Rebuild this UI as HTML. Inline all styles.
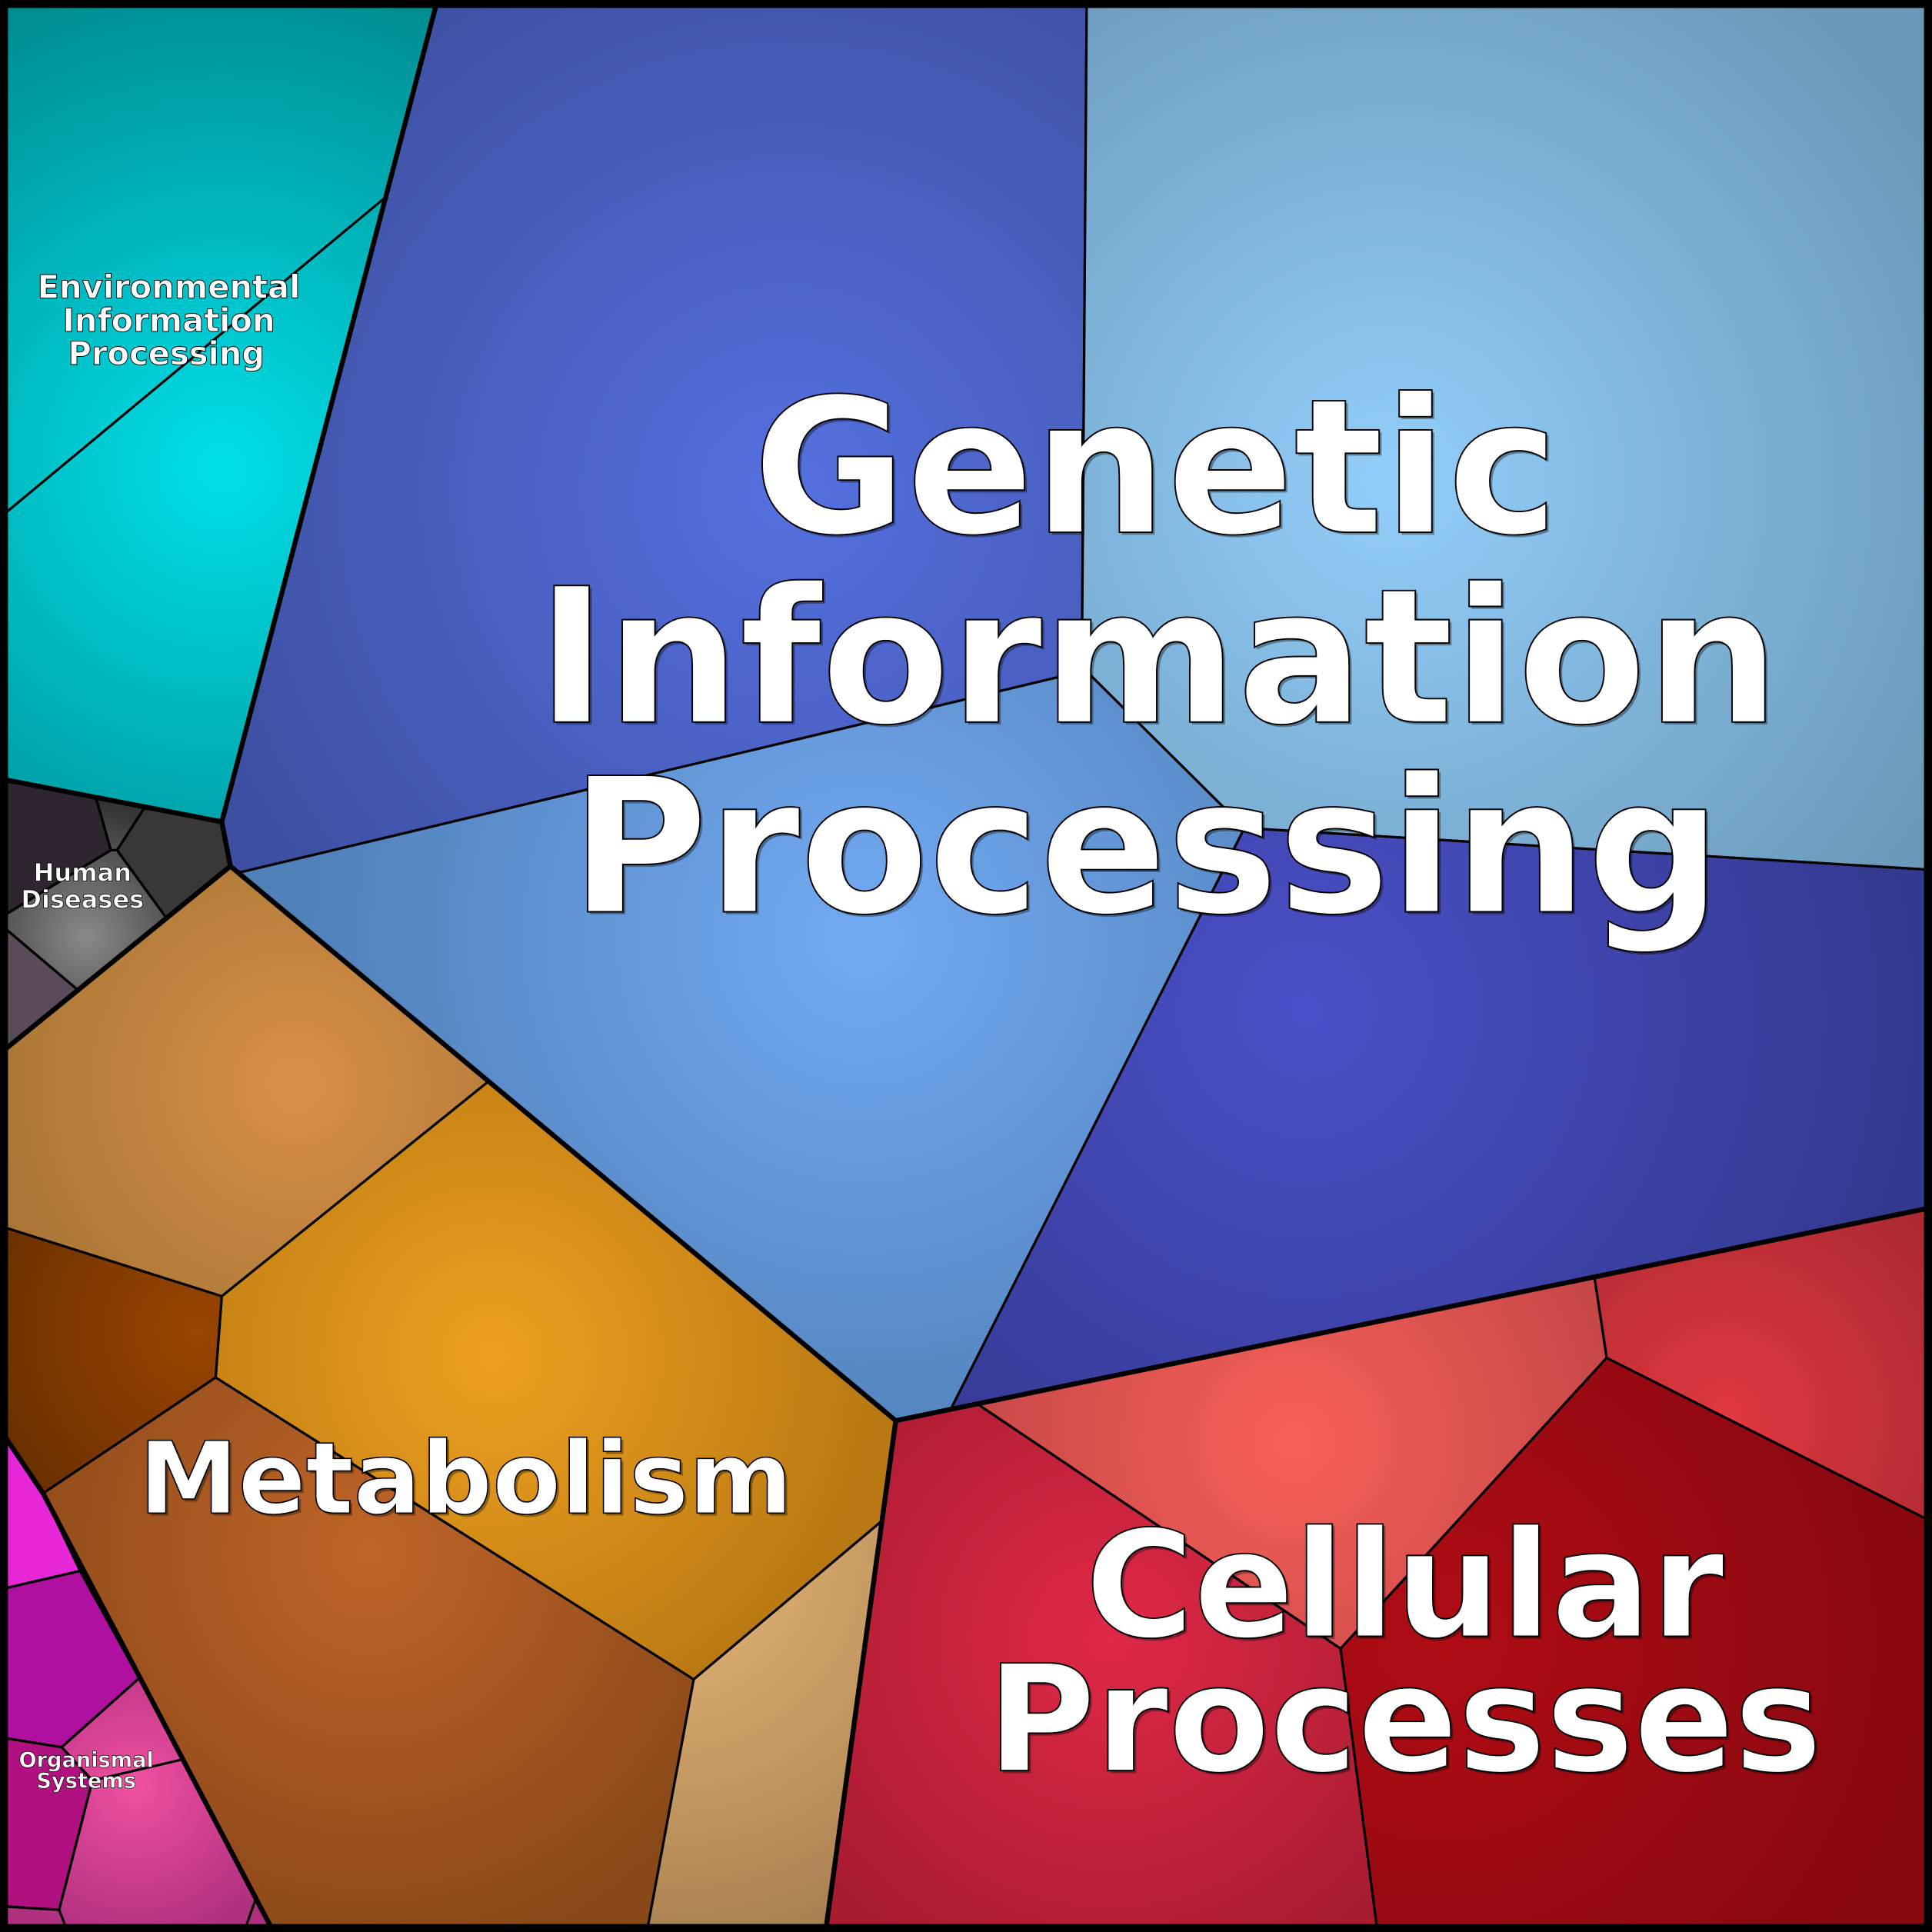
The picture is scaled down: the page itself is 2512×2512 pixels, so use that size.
<!DOCTYPE html>
<html><head><meta charset="utf-8"><style>html,body{margin:0;padding:0;background:#fff}svg{display:block}</style></head><body>
<svg width="2512" height="2512" viewBox="0 0 1568 1568" xmlns="http://www.w3.org/2000/svg">
<defs>
<radialGradient id="gEnv" gradientUnits="userSpaceOnUse" cx="180" cy="380" r="420"><stop offset="0" stop-color="#00e0e8"/><stop offset="1" stop-color="#008a90"/></radialGradient>
<radialGradient id="gB1" gradientUnits="userSpaceOnUse" cx="640" cy="400" r="520"><stop offset="0" stop-color="#5570e0"/><stop offset="1" stop-color="#3d4fa0"/></radialGradient>
<radialGradient id="gB2" gradientUnits="userSpaceOnUse" cx="1130" cy="390" r="520"><stop offset="0" stop-color="#92cefa"/><stop offset="1" stop-color="#6a98b8"/></radialGradient>
<radialGradient id="gB3" gradientUnits="userSpaceOnUse" cx="700" cy="760" r="460"><stop offset="0" stop-color="#72aaf2"/><stop offset="1" stop-color="#5080b8"/></radialGradient>
<radialGradient id="gB4" gradientUnits="userSpaceOnUse" cx="1060" cy="820" r="500"><stop offset="0" stop-color="#4a50c8"/><stop offset="1" stop-color="#33398f"/></radialGradient>
<radialGradient id="gHD" gradientUnits="userSpaceOnUse" cx="70" cy="760" r="110"><stop offset="0" stop-color="#8a8a8a"/><stop offset="1" stop-color="#333"/></radialGradient>
<radialGradient id="gM1" gradientUnits="userSpaceOnUse" cx="240" cy="880" r="260"><stop offset="0" stop-color="#d89048"/><stop offset="1" stop-color="#a87535"/></radialGradient>
<radialGradient id="gM2" gradientUnits="userSpaceOnUse" cx="400" cy="1100" r="320"><stop offset="0" stop-color="#eea020"/><stop offset="1" stop-color="#b87812"/></radialGradient>
<radialGradient id="gM3" gradientUnits="userSpaceOnUse" cx="160" cy="1080" r="180"><stop offset="0" stop-color="#9a4500"/><stop offset="1" stop-color="#6a3000"/></radialGradient>
<radialGradient id="gM4" gradientUnits="userSpaceOnUse" cx="300" cy="1260" r="340"><stop offset="0" stop-color="#c06428"/><stop offset="1" stop-color="#884818"/></radialGradient>
<radialGradient id="gM5" gradientUnits="userSpaceOnUse" cx="540" cy="1260" r="330"><stop offset="0" stop-color="#e8b878"/><stop offset="1" stop-color="#a88050"/></radialGradient>
<radialGradient id="gO" gradientUnits="userSpaceOnUse" cx="110" cy="1450" r="130"><stop offset="0" stop-color="#f050a0"/><stop offset="1" stop-color="#b03080"/></radialGradient>
<radialGradient id="gC1" gradientUnits="userSpaceOnUse" cx="1050" cy="1170" r="300"><stop offset="0" stop-color="#f86058"/><stop offset="1" stop-color="#c04545"/></radialGradient>
<radialGradient id="gC2" gradientUnits="userSpaceOnUse" cx="900" cy="1330" r="300"><stop offset="0" stop-color="#e02848"/><stop offset="1" stop-color="#a81c30"/></radialGradient>
<radialGradient id="gC3" gradientUnits="userSpaceOnUse" cx="1170" cy="1330" r="400"><stop offset="0" stop-color="#b00c14"/><stop offset="1" stop-color="#880810"/></radialGradient>
<radialGradient id="gC4" gradientUnits="userSpaceOnUse" cx="1400" cy="1150" r="240"><stop offset="0" stop-color="#e03840"/><stop offset="1" stop-color="#a82830"/></radialGradient>
</defs>
<g stroke="#000" stroke-width="2" stroke-linejoin="round">
<polygon fill="url(#gEnv)" points="0,0 355,0 180,667 0,632"/>
<line x1="313" y1="160" x2="0" y2="420"/>
<polygon fill="url(#gB1)" points="355,0 882,0 878,545 195,708 187,703 180,667"/>
<polygon fill="url(#gB2)" points="882,0 1568,0 1568,706 1010,672 885,548 878,545"/>
<polygon fill="url(#gB3)" points="195,708 878,545 885,548 1010,672 772,1143 727,1153 187,703"/>
<polygon fill="url(#gB4)" points="1010,672 1568,706 1568,980 772,1143"/>
<polygon fill="url(#gHD)" points="0,632 180,667 187,703 0,855"/>
<polygon fill="#2e2530" points="0,632 78,648 90,690 0,745"/>
<polygon fill="#383838" points="117,656 180,667 187,703 135,745 95,690"/>
<polygon fill="#5a4a5a" points="0,750 65,805 0,855"/>
<line x1="78" y1="648" x2="90" y2="690"/><line x1="117" y1="656" x2="95" y2="690"/>
<line x1="90" y1="690" x2="0" y2="745"/><line x1="95" y1="690" x2="135" y2="745"/>
<line x1="0" y1="750" x2="65" y2="805"/><line x1="90" y1="690" x2="95" y2="690"/>
<polygon fill="url(#gM1)" points="0,855 187,703 396,878 180,1052 0,995"/>
<polygon fill="url(#gM2)" points="396,878 727,1153 715,1235 563,1363 175,1118 180,1052"/>
<polygon fill="url(#gM3)" points="0,995 180,1052 175,1118 35,1212 0,1160"/>
<polygon fill="url(#gM4)" points="35,1212 175,1118 563,1363 525,1568 222,1568"/>
<polygon fill="url(#gM5)" points="563,1363 715,1235 670,1568 525,1568"/>
<polygon fill="url(#gO)" points="0,1160 35,1212 222,1568 0,1568"/>
<polygon fill="#e828d8" points="0,1160 35,1212 65,1275 0,1290"/>
<polygon fill="#b010a0" points="0,1290 65,1275 113,1362 50,1418 0,1410"/>
<polygon fill="#b01080" points="0,1410 50,1418 75,1445 48,1550 0,1547"/>
<line x1="0" y1="1290" x2="65" y2="1275"/><line x1="113" y1="1362" x2="50" y2="1418"/>
<line x1="0" y1="1410" x2="50" y2="1418"/><line x1="50" y1="1418" x2="75" y2="1445"/>
<line x1="148" y1="1428" x2="75" y2="1445"/><line x1="75" y1="1445" x2="48" y2="1550"/>
<polyline fill="none" points="0,1547 48,1550 55,1568"/><line x1="208" y1="1540" x2="198" y2="1568"/>
<polygon fill="url(#gC1)" points="794,1140 1294,1036 1304,1102 1088,1338"/>
<polygon fill="url(#gC2)" points="727,1153 794,1140 1088,1338 1118,1568 670,1568"/>
<polygon fill="url(#gC3)" points="1088,1338 1304,1102 1568,1235 1568,1568 1118,1568"/>
<polygon fill="url(#gC4)" points="1294,1036 1568,980 1568,1235 1304,1102"/>
</g>
<g stroke="#000" stroke-width="4" fill="none" stroke-linejoin="round">
<polyline points="355,0 180,667 0,632"/>
<polyline points="180,667 187,703 0,855"/>
<polyline points="187,703 727,1153 1568,980"/>
<polyline points="727,1153 670,1568"/>
<polyline points="0,1160 35,1212 222,1568"/>
<rect x="3" y="3" width="1562" height="1562" stroke-width="7"/>
</g>
<g font-family="'DejaVu Sans','Liberation Sans',sans-serif" font-weight="bold" text-anchor="middle" fill="#000" opacity="0.35" transform="translate(2,2)">
<g font-size="152"><text x="938" y="432">Genetic</text><text x="940" y="586">Information</text><text x="930" y="740">Processing</text></g>
<text x="378" y="1228" font-size="81">Metabolism</text>
<g font-size="120"><text x="1140" y="1328">Cellular</text><text x="1140" y="1437">Processes</text></g>
</g>
<g font-family="'DejaVu Sans','Liberation Sans',sans-serif" font-weight="bold" fill="#fff" stroke="#000" text-anchor="middle">
<g font-size="152" stroke-width="1.2"><text x="938" y="432">Genetic</text><text x="940" y="586">Information</text><text x="930" y="740">Processing</text></g>
<text x="378" y="1228" font-size="81" stroke-width="1">Metabolism</text>
<g font-size="120" stroke-width="1.2"><text x="1140" y="1328">Cellular</text><text x="1140" y="1437">Processes</text></g>
<g font-size="26" stroke-width="0.6"><text x="137" y="242">Environmental</text><text x="137" y="269">Information</text><text x="135" y="296">Processing</text></g>
<g font-size="20" stroke-width="0.5"><text x="67" y="715">Human</text><text x="67" y="737">Diseases</text></g>
<g font-size="17" stroke-width="0.4"><text x="70" y="1434">Organismal</text><text x="70" y="1451">Systems</text></g>
</g>
</svg>
</body></html>
